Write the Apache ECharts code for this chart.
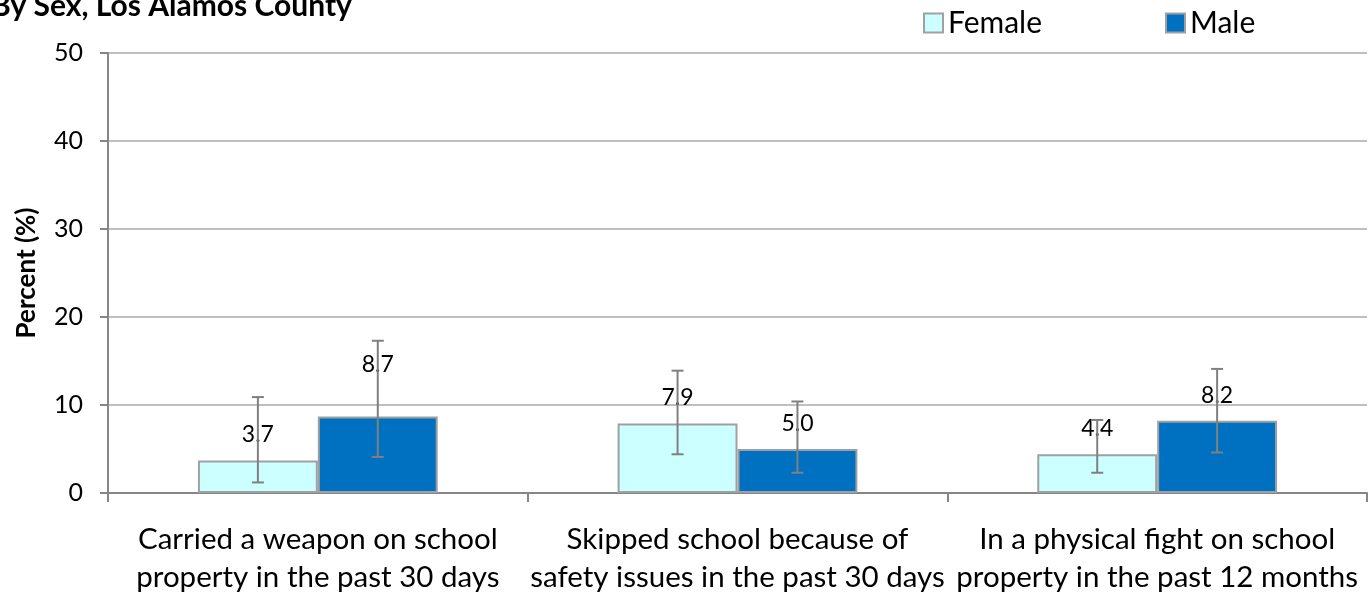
<!DOCTYPE html>
<html><head><meta charset="utf-8">
<script src="https://cdn.jsdelivr.net/npm/echarts@6/dist/echarts.min.js"></script>
<style>html,body{margin:0;padding:0;background:#fff}#c{width:1368px;height:596px}</style>
</head><body><div id="c"></div>
<script>
const categories = ["Carried a weapon on school\nproperty in the past 30 days", "Skipped school because of\nsafety issues in the past 30 days", "In a physical fight on school\nproperty in the past 12 months"];
const femaleValues = [3.7, 7.9, 4.4];
const maleValues = [8.7, 5.0, 8.2];
const femaleLow = [1.2, 4.4, 2.3];
const femaleHigh = [10.9, 13.9, 8.3];
const maleLow = [4.1, 2.3, 4.6];
const maleHigh = [17.3, 10.4, 14.1];
const yTicks = [0, 10, 20, 30, 40, 50];

const FONT = 'Lato';
const chart = echarts.init(document.getElementById('c'));
const barWidthFrac = 0.2857;

function errSeries(name, low, high, side) {
  return {
    type: 'custom', name: name + ' CI', silent: true, z: 10,
    data: low.map((l, i) => [i, l, high[i]]),
    renderItem: function (params, api) {
      const i = api.value(0);
      const band = api.size([1, 0])[0];
      const c = api.coord([i, 0]);
      const x = c[0] + side * band * barWidthFrac / 2;
      const pl = api.coord([i, api.value(1)]);
      const ph = api.coord([i, api.value(2)]);
      const hw = 6;
      const st = { stroke: '#808080', lineWidth: 2 };
      return { type: 'group', children: [
        { type: 'line', shape: { x1: x, y1: pl[1], x2: x, y2: ph[1] }, style: st },
        { type: 'line', shape: { x1: x - hw, y1: pl[1], x2: x + hw, y2: pl[1] }, style: st },
        { type: 'line', shape: { x1: x - hw, y1: ph[1], x2: x + hw, y2: ph[1] }, style: st }
      ]};
    }
  };
}

function barData(vals, special) {
  return vals.map((v, i) => {
    const d = { value: v };
    if (special && special[i] !== undefined) d.label = { distance: special[i] };
    return d;
  });
}

const labelStyle = { show: true, position: 'top', distance: 14, color: '#000', fontFamily: FONT, fontSize: 23, formatter: p => p.value.toFixed(1) };

chart.setOption({
  animation: false,
  textStyle: { fontFamily: FONT },
  graphic: [{ type: 'text', left: -9, top: -9, style: { text: 'By Sex, Los Alamos County', font: 'bold 30px ' + FONT, fill: '#000' } }],
  legend: {
    left: 918, top: 3, itemWidth: 19, itemHeight: 19, itemGap: 123,
    textStyle: { fontFamily: FONT, fontSize: 30, color: '#000' },
    data: ['Female', 'Male'], icon: 'rect'
  },
  grid: { left: 108, right: 1, top: 53, bottom: 99, containLabel: false },
  xAxis: {
    type: 'category', data: categories,
    axisLine: { lineStyle: { color: '#868686', width: 2 } },
    axisTick: { show: true, length: 9, lineStyle: { color: '#868686', width: 2 } },
    axisLabel: { color: '#000', fontFamily: FONT, fontSize: 29.5, lineHeight: 38, margin: 27, interval: 0 }
  },
  yAxis: {
    type: 'value', min: 0, max: 50, interval: 10,
    name: 'Percent (%)', nameLocation: 'middle', nameGap: 68,
    nameTextStyle: { fontFamily: FONT, fontWeight: 'bold', fontSize: 26, color: '#000' },
    axisLine: { show: true, lineStyle: { color: '#868686', width: 2 } },
    axisTick: { show: true, length: 8, lineStyle: { color: '#868686', width: 2 } },
    axisLabel: { color: '#000', fontFamily: FONT, fontSize: 25, margin: 25, formatter: v => yTicks.includes(v) ? String(v) : '' },
    splitLine: { lineStyle: { color: '#bfbfbf', width: 2 } }
  },
  series: [
    { name: 'Female', type: 'bar', data: barData(femaleValues), barGap: '0%', barCategoryGap: '42.86%',
      itemStyle: { color: '#ccffff', borderColor: '#a0a0a0', borderWidth: 2 }, label: labelStyle },
    { name: 'Male', type: 'bar', data: barData(maleValues, {0: 40}), barGap: '0%', barCategoryGap: '42.86%',
      itemStyle: { color: '#0070c0', borderColor: '#a0a0a0', borderWidth: 2 }, label: labelStyle },
    errSeries('Female', femaleLow, femaleHigh, -1),
    errSeries('Male', maleLow, maleHigh, 1)
  ]
});
</script></body></html>
